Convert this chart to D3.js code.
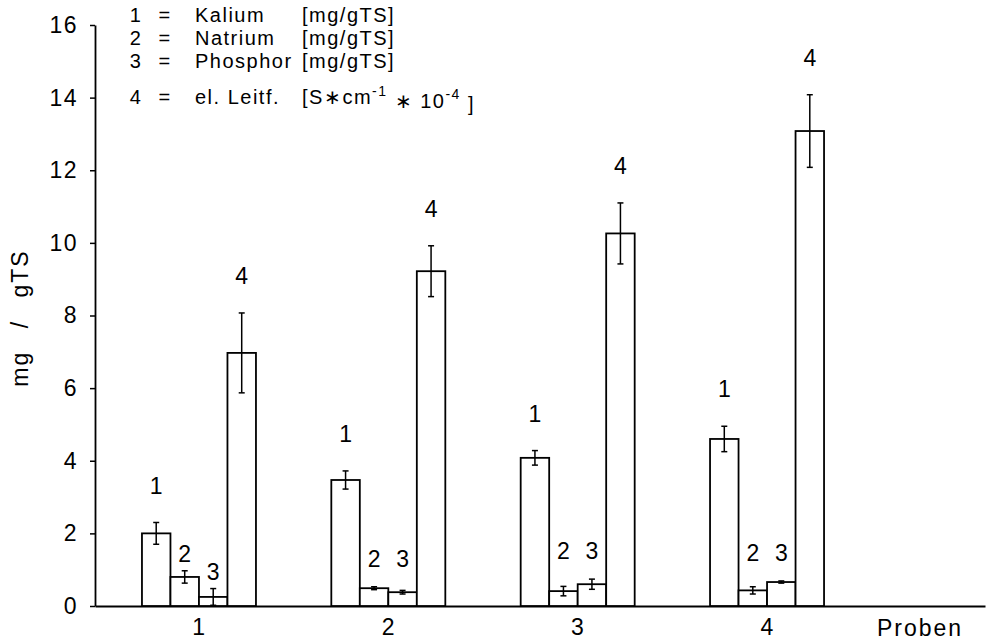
<!DOCTYPE html>
<html lang="de">
<head>
<meta charset="UTF-8">
<title>Proben</title>
<script src="https://d3js.org/d3.v7.min.js"></script>
<style>
  body { margin: 0; background: #fff; }
  svg { font-family: "Liberation Sans", Arial, sans-serif; }
  text { fill: #000; }
</style>
</head>
<body>
<svg id="chart" width="990" height="641"></svg>
<script>
// values
const proben = [1, 2, 3, 4];
const series = ["1", "2", "3", "4"];
const names = ["Kalium", "Natrium", "Phosphor", "el. Leitf."];

const kalium      = [2.0, 3.47, 4.08, 4.6];
const kaliumErr   = [0.3, 0.25, 0.2, 0.35];
const natrium     = [0.8, 0.49, 0.41, 0.43];
const natriumErr  = [0.17, 0.04, 0.13, 0.1];
const phosphor    = [0.25, 0.38, 0.6, 0.66];
const phosphorErr = [0.23, 0.05, 0.14, 0.03];
const leitf       = [6.97, 9.22, 10.26, 13.08];
const leitfErr    = [1.1, 0.7, 0.84, 1.0];

const yTicks = [0, 2, 4, 6, 8, 10, 12, 14, 16];

const values = [kalium, natrium, phosphor, leitf];
const errors = [kaliumErr, natriumErr, phosphorErr, leitfErr];

const svg = d3.select("#chart");
const fs = 23;
const ls = 1.5;

const x = d3.scaleLinear().domain([0.451, 5.151]).range([95, 985]);
const inner = d3.scaleBand().domain(series).range([-57, 57]);
const y = d3.scaleLinear().domain([0, 16]).range([606, 25]);

// flat table of bars
const bars = [];
proben.forEach((p, i) => {
  series.forEach((s, j) => {
    bars.push({ p: p, s: s, v: values[j][i], e: errors[j][i] });
  });
});

// y axis
const yAxis = svg.append("g")
  .attr("transform", "translate(" + x.range()[0] + ",0)")
  .call(d3.axisLeft(y).tickValues(yTicks).tickSize(5).tickSizeOuter(0).tickPadding(12));
yAxis.select(".domain").attr("stroke", "#000").attr("stroke-width", 1.8);
yAxis.selectAll(".tick line").attr("stroke", "#000").attr("stroke-width", 1.5);
yAxis.selectAll(".tick text").attr("font-size", fs).attr("letter-spacing", ls)
  .attr("font-family", "Liberation Sans").attr("fill", "#000");

// x axis
const xAxis = svg.append("g")
  .attr("transform", "translate(0," + y(0) + ")")
  .call(d3.axisBottom(x).tickValues(proben).tickFormat(d3.format("d"))
    .tickSize(0).tickSizeOuter(0).tickPadding(13));
xAxis.select(".domain").attr("stroke", "#000").attr("stroke-width", 1.8);
xAxis.selectAll(".tick text").attr("font-size", fs).attr("letter-spacing", ls)
  .attr("font-family", "Liberation Sans").attr("fill", "#000");

svg.append("text")
  .attr("x", 920).attr("y", 628).attr("dy", "0.35em")
  .attr("text-anchor", "middle").attr("font-size", fs).attr("letter-spacing", 2)
  .text("Proben");

svg.append("text")
  .attr("transform", "translate(20,318) rotate(-90)")
  .attr("text-anchor", "middle").attr("dy", "0.35em")
  .attr("font-size", fs).attr("letter-spacing", 2).attr("word-spacing", 14)
  .text("mg / gTS");

// bars
svg.append("g").selectAll("rect")
  .data(bars)
  .join("rect")
  .attr("x", d => x(d.p) + inner(d.s))
  .attr("y", d => y(d.v))
  .attr("width", inner.bandwidth())
  .attr("height", d => y(0) - y(d.v))
  .attr("fill", "#fff")
  .attr("stroke", "#000")
  .attr("stroke-width", 1.8);

// error bars
const eb = svg.append("g").attr("stroke", "#000").attr("stroke-width", 1.5);
const cx = d => x(d.p) + inner(d.s) + inner.bandwidth() / 2;
eb.selectAll(".ev").data(bars).join("line")
  .attr("x1", cx).attr("x2", cx)
  .attr("y1", d => y(d.v + d.e)).attr("y2", d => y(Math.max(0, d.v - d.e)));
eb.selectAll(".et").data(bars).join("line")
  .attr("x1", d => cx(d) - 3).attr("x2", d => cx(d) + 3)
  .attr("y1", d => y(d.v + d.e)).attr("y2", d => y(d.v + d.e));
eb.selectAll(".eb").data(bars).join("line")
  .attr("x1", d => cx(d) - 3).attr("x2", d => cx(d) + 3)
  .attr("y1", d => y(Math.max(0, d.v - d.e))).attr("y2", d => y(Math.max(0, d.v - d.e)));

// series number above each bar
function labelY(d) {
  const top = y(d.v + d.e);
  if (d.s === "1" || d.s === "4") return top - 37;
  const i = proben.indexOf(d.p);
  const t2 = y(natrium[i] + natriumErr[i]);
  const t3 = y(phosphor[i] + phosphorErr[i]);
  if (Math.abs(t2 - t3) < 12) return Math.min(t2, t3) - 28;
  return top - 17;
}
svg.append("g").selectAll("text")
  .data(bars)
  .join("text")
  .attr("x", cx)
  .attr("y", labelY)
  .attr("dy", "0.35em")
  .attr("text-anchor", "middle")
  .attr("font-size", fs)
  .text(d => d.s);

// legend
const legY = [15, 38, 61, 97];
const leg = svg.append("g").attr("font-size", 20).attr("letter-spacing", ls);
series.forEach((s, i) => {
  const ly = legY[i];
  leg.append("text").attr("x", 136).attr("y", ly).attr("dy", "0.35em").attr("text-anchor", "middle").text(s);
  leg.append("text").attr("x", 165).attr("y", ly).attr("dy", "0.35em").attr("text-anchor", "middle").text("=");
  leg.append("text").attr("x", 195).attr("y", ly).attr("dy", "0.35em").text(names[i]);
  const u = leg.append("text").attr("x", 302).attr("y", ly).attr("dy", "0.35em");
  if (i < 3) {
    u.text("[mg/gTS]");
  } else {
    u.append("tspan").text("[S\u2217cm");
    u.append("tspan").attr("font-size", 14).attr("dy", "-0.6em").text("-1");
    u.append("tspan").attr("dy", "0.6em").text(" \u2217 10");
    u.append("tspan").attr("font-size", 14).attr("dy", "-0.6em").text("-4");
    u.append("tspan").attr("dy", "0.6em").text(" ]");
  }
});
</script>
</body>
</html>
